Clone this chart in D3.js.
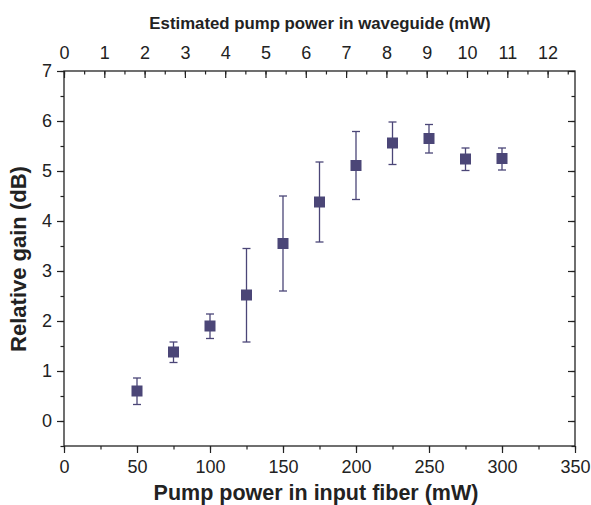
<!DOCTYPE html>
<html lang="en">
<head>
<meta charset="UTF-8">
<title>Relative gain</title>
<style>
  body { margin: 0; background: #fff; }
  text { font-family: "Liberation Sans", Arial, sans-serif; fill: #222; }
</style>
</head>
<body>
<div id="chart"></div>
<script src="https://d3js.org/d3.v7.min.js"></script>
<script>
// data
const pumpFiber = [50, 75, 100, 125, 150, 175, 200, 225, 250, 275, 300];
const gain      = [0.60, 1.38, 1.90, 2.52, 3.55, 4.38, 5.11, 5.56, 5.65, 5.24, 5.25];
const errLow    = [0.33, 1.17, 1.65, 1.58, 2.60, 3.58, 4.43, 5.13, 5.36, 5.01, 5.02];
const errHigh   = [0.86, 1.58, 2.14, 3.45, 4.50, 5.18, 5.79, 5.98, 5.93, 5.46, 5.46];
const bottomTicks = [0, 50, 100, 150, 200, 250, 300, 350];
const topTicks = [0, 1, 2, 3, 4, 5, 6, 7, 8, 9, 10, 11, 12];
const leftTicks = [0, 1, 2, 3, 4, 5, 6, 7];

const width = 591, height = 505;
const margin = {left: 64, right: 16, top: 71, bottom: 59};
const ink = "#222";
const markColor = "#4b4677";

const svg = d3.select("#chart").append("svg")
    .attr("width", width)
    .attr("height", height);

const x = d3.scaleLinear().domain([0, 350]).range([margin.left, width - margin.right]);
const y = d3.scaleLinear().domain([-0.5, 7]).range([height - margin.bottom, margin.top]);
// waveguide power scale (top axis), 12 mW lands near 330 mW in fiber
const xTop = d3.scaleLinear().domain([0, 12.68]).range([margin.left, width - margin.right]);

const x0 = margin.left, x1 = width - margin.right;
const y0 = height - margin.bottom, y1 = margin.top;

function styleAxis(g) {
  g.select(".domain").remove();
  g.selectAll("line").attr("stroke", ink).attr("stroke-width", 1.2);
  g.selectAll("text").style("font-size", "18px").attr("fill", ink);
}

// bottom axis
svg.append("g")
  .attr("transform", `translate(0,${y0})`)
  .call(d3.axisBottom(x).tickValues(d3.range(0, 351, 25)).tickSize(3.5).tickFormat(""))
  .call(styleAxis);
svg.append("g")
  .attr("transform", `translate(0,${y0})`)
  .call(d3.axisBottom(x).tickValues(bottomTicks).tickSize(7).tickPadding(7).tickFormat(d3.format("d")))
  .call(styleAxis);

// left axis
svg.append("g")
  .attr("transform", `translate(${x0},0)`)
  .call(d3.axisLeft(y).tickValues(d3.range(-0.5, 7.01, 0.5)).tickSize(3.5).tickFormat(""))
  .call(styleAxis);
svg.append("g")
  .attr("transform", `translate(${x0},0)`)
  .call(d3.axisLeft(y).tickValues(leftTicks).tickSize(7).tickPadding(5).tickFormat(d3.format("d")))
  .call(styleAxis);

// right axis, ticks inward
svg.append("g")
  .attr("transform", `translate(${x1},0)`)
  .call(d3.axisLeft(y).tickValues(d3.range(-0.5, 7.01, 0.5)).tickSize(3.5).tickFormat(""))
  .call(styleAxis);
svg.append("g")
  .attr("transform", `translate(${x1},0)`)
  .call(d3.axisLeft(y).tickValues(leftTicks).tickSize(7).tickFormat(""))
  .call(styleAxis);

// top axis, ticks inward, labels above
svg.append("g")
  .attr("transform", `translate(0,${y1})`)
  .call(d3.axisBottom(xTop).tickValues(d3.range(0, 12.6, 0.5)).tickSize(3.5).tickFormat(""))
  .call(styleAxis);
svg.append("g")
  .attr("transform", `translate(0,${y1})`)
  .call(d3.axisBottom(xTop).tickValues(topTicks).tickSize(7).tickFormat(""))
  .call(styleAxis);
svg.append("g")
  .attr("transform", `translate(0,${y1})`)
  .call(d3.axisTop(xTop).tickValues(topTicks).tickSize(0).tickPadding(12).tickFormat(d3.format("d")))
  .call(styleAxis);

// frame
svg.append("rect")
  .attr("x", x0).attr("y", y1)
  .attr("width", x1 - x0).attr("height", y0 - y1)
  .attr("fill", "none").attr("stroke", ink).attr("stroke-width", 1.3);

// titles
svg.append("text")
  .attr("x", 316).attr("y", 500)
  .attr("text-anchor", "middle")
  .style("font-size", "21.5px").style("font-weight", "bold")
  .text("Pump power in input fiber (mW)");

svg.append("text")
  .attr("x", 320).attr("y", 29)
  .attr("text-anchor", "middle")
  .style("font-size", "16.8px").style("font-weight", "bold")
  .text("Estimated pump power in waveguide (mW)");

svg.append("text")
  .attr("transform", `translate(26,259) rotate(-90)`)
  .attr("text-anchor", "middle")
  .style("font-size", "22px").style("font-weight", "bold")
  .text("Relative gain (dB)");

// error bars and markers
const points = pumpFiber.map((p, i) => ({p: p, g: gain[i], lo: errLow[i], hi: errHigh[i]}));
const cap = 4;

const bars = svg.append("g").attr("stroke", markColor).attr("stroke-width", 1.3);
bars.selectAll(".err").data(points).enter().append("line")
  .attr("x1", d => x(d.p)).attr("x2", d => x(d.p))
  .attr("y1", d => y(d.lo)).attr("y2", d => y(d.hi));
bars.selectAll(".capHi").data(points).enter().append("line")
  .attr("x1", d => x(d.p) - cap).attr("x2", d => x(d.p) + cap)
  .attr("y1", d => y(d.hi)).attr("y2", d => y(d.hi));
bars.selectAll(".capLo").data(points).enter().append("line")
  .attr("x1", d => x(d.p) - cap).attr("x2", d => x(d.p) + cap)
  .attr("y1", d => y(d.lo)).attr("y2", d => y(d.lo));

const sq = 11;
svg.append("g").selectAll("rect").data(points).enter().append("rect")
  .attr("x", d => x(d.p) - sq / 2)
  .attr("y", d => y(d.g) - sq / 2)
  .attr("width", sq).attr("height", sq)
  .attr("fill", markColor);
</script>
</body>
</html>
